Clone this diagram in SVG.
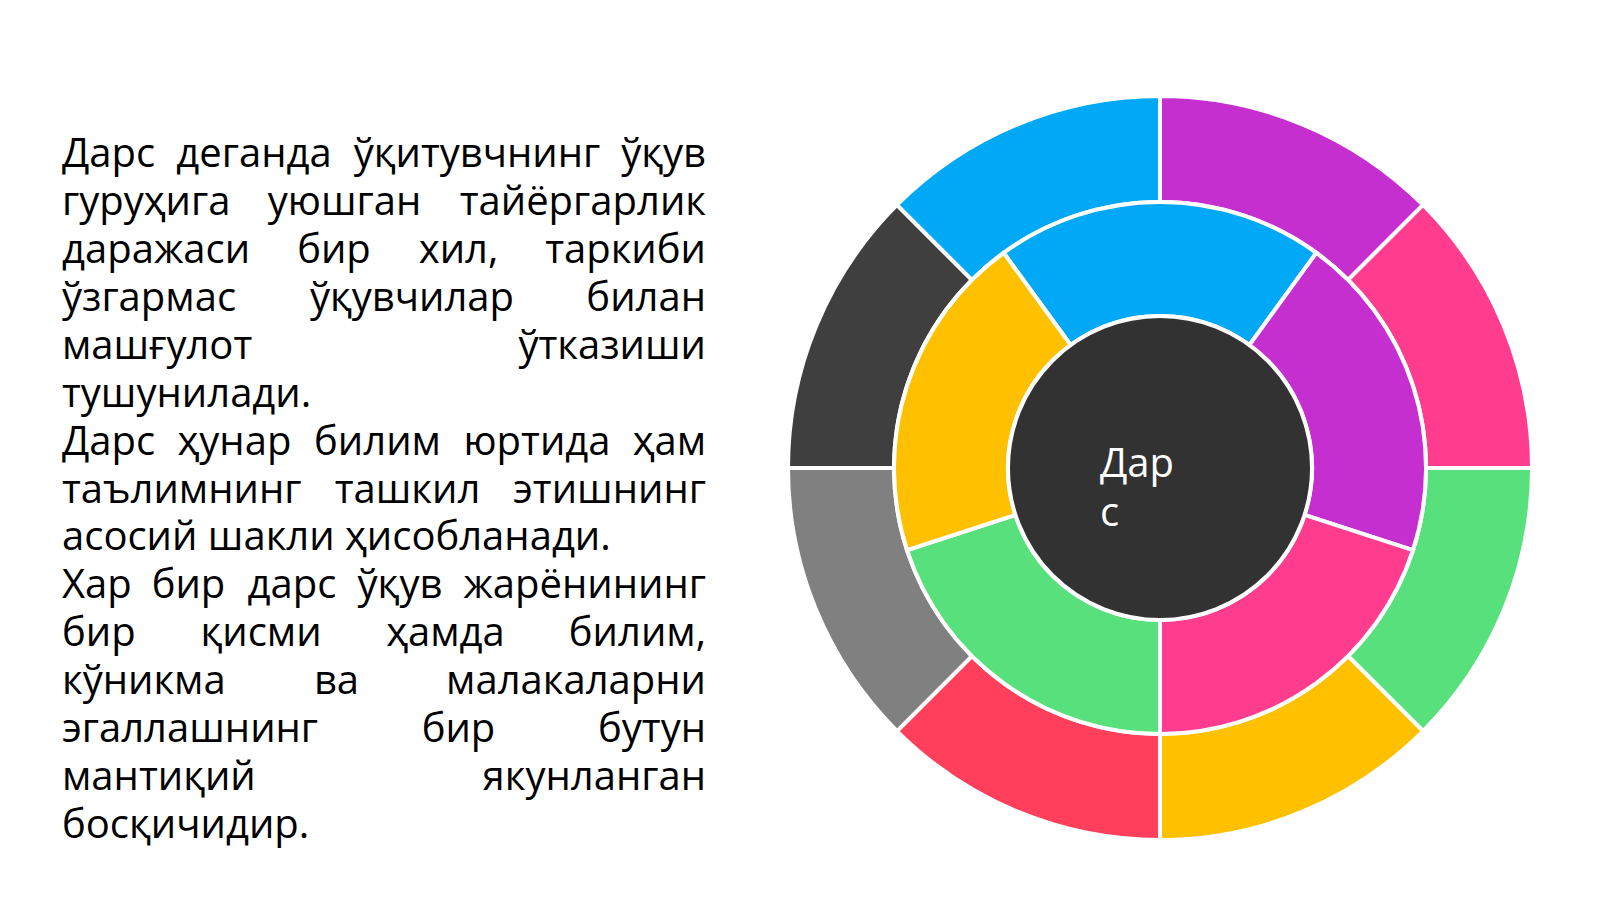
<svg xmlns="http://www.w3.org/2000/svg" width="1600" height="899" viewBox="0 0 1600 899">
<style>
.t{font-family:"Open Sans","Noto Sans","DejaVu Sans",sans-serif;font-size:40px;fill:#000}
.s{text-anchor:start}
.m{text-anchor:middle}
.e{text-anchor:end}
.seg{stroke:#fff;stroke-width:4;stroke-linejoin:miter}
.c{font-family:"Open Sans","Noto Sans","DejaVu Sans",sans-serif;font-size:40px;fill:#fff}
</style>
<rect x="0" y="0" width="1600" height="899" fill="#fff"/>
<g id="paragraph">
<text class="t s" x="62" y="167">Дарс</text><text class="t m" x="254" y="167">деганда</text><text class="t m" x="477" y="167">ўқитувчнинг</text><text class="t e" x="706" y="167">ўқув</text>
<text class="t s" x="62" y="215">гуруҳига</text><text class="t m" x="344.5" y="215">уюшган</text><text class="t e" x="706" y="215">тайёргарлик</text>
<text class="t s" x="62" y="263">даражаси</text><text class="t m" x="334" y="263">бир</text><text class="t m" x="458.5" y="263">хил,</text><text class="t e" x="706" y="263">таркиби</text>
<text class="t s" x="62" y="311">ўзгармас</text><text class="t m" x="412" y="311">ўқувчилар</text><text class="t e" x="706" y="311">билан</text>
<text class="t s" x="62" y="359">машғулот</text><text class="t e" x="706" y="359">ўтказиши</text>
<text class="t s" x="62" y="407">тушунилади.</text>
<text class="t s" x="62" y="455">Дарс</text><text class="t m" x="234.5" y="455">ҳунар</text><text class="t m" x="377.5" y="455">билим</text><text class="t m" x="537" y="455">юртида</text><text class="t e" x="706" y="455">ҳам</text>
<text class="t s" x="62" y="503">таълимнинг</text><text class="t m" x="407.5" y="503">ташкил</text><text class="t e" x="706" y="503">этишнинг</text>
<text class="t s" x="62" y="550">асосий шакли ҳисобланади.</text>
<text class="t s" x="62" y="598">Хар</text><text class="t m" x="188.5" y="598">бир</text><text class="t m" x="292" y="598">дарс</text><text class="t m" x="400" y="598">ўқув</text><text class="t e" x="706" y="598">жарёнининг</text>
<text class="t s" x="62" y="646">бир</text><text class="t m" x="261" y="646">қисми</text><text class="t m" x="445.5" y="646">ҳамда</text><text class="t e" x="706" y="646">билим,</text>
<text class="t s" x="62" y="694">кўникма</text><text class="t m" x="336.5" y="694">ва</text><text class="t e" x="706" y="694">малакаларни</text>
<text class="t s" x="62" y="742">эгаллашнинг</text><text class="t m" x="458.5" y="742">бир</text><text class="t e" x="706" y="742">бутун</text>
<text class="t s" x="62" y="790">мантиқий</text><text class="t e" x="706" y="790">якунланган</text>
<text class="t s" x="62" y="838">босқичидир.</text>
</g>
<g id="outer-ring">
<path id="o1" class="seg" fill="#C62FCF" d="M1160 96 A372 372 0 0 1 1423.04 204.96 L1348.09 279.91 A266 266 0 0 0 1160 202 Z"/>
<path id="o2" class="seg" fill="#FF3C8E" d="M1423.04 204.96 A372 372 0 0 1 1532 468 L1426 468 A266 266 0 0 0 1348.09 279.91 Z"/>
<path id="o3" class="seg" fill="#57E07B" d="M1532 468 A372 372 0 0 1 1423.04 731.04 L1348.09 656.09 A266 266 0 0 0 1426 468 Z"/>
<path id="o4" class="seg" fill="#FFC000" d="M1423.04 731.04 A372 372 0 0 1 1160 840 L1160 734 A266 266 0 0 0 1348.09 656.09 Z"/>
<path id="o5" class="seg" fill="#FF3F5C" d="M1160 840 A372 372 0 0 1 896.96 731.04 L971.91 656.09 A266 266 0 0 0 1160 734 Z"/>
<path id="o6" class="seg" fill="#808080" d="M896.96 731.04 A372 372 0 0 1 788 468 L894 468 A266 266 0 0 0 971.91 656.09 Z"/>
<path id="o7" class="seg" fill="#3F3F3F" d="M788 468 A372 372 0 0 1 896.96 204.96 L971.91 279.91 A266 266 0 0 0 894 468 Z"/>
<path id="o8" class="seg" fill="#00A8F5" d="M896.96 204.96 A372 372 0 0 1 1160 96 L1160 202 A266 266 0 0 0 971.91 279.91 Z"/>
</g>
<g id="middle-ring">
<path id="m1" class="seg" fill="#00A8F5" d="M1003.65 252.80 A266 266 0 0 1 1316.35 252.80 L1249.34 345.03 A152 152 0 0 0 1070.66 345.03 Z"/>
<path id="m2" class="seg" fill="#C62FCF" d="M1316.35 252.80 A266 266 0 0 1 1412.98 550.20 L1304.56 514.97 A152 152 0 0 0 1249.34 345.03 Z"/>
<path id="m3" class="seg" fill="#FF3C8E" d="M1412.98 550.20 A266 266 0 0 1 1160 734 L1160 620 A152 152 0 0 0 1304.56 514.97 Z"/>
<path id="m4" class="seg" fill="#57E07B" d="M1160 734 A266 266 0 0 1 907.02 550.20 L1015.44 514.97 A152 152 0 0 0 1160 620 Z"/>
<path id="m5" class="seg" fill="#FFC000" d="M907.02 550.20 A266 266 0 0 1 1003.65 252.80 L1070.66 345.03 A152 152 0 0 0 1015.44 514.97 Z"/>
</g>
<g id="center">
<circle cx="1160" cy="468" r="152" fill="#323232" stroke="#fff" stroke-width="4"/>
<text class="c" x="1100" y="477">Дар</text>
<text class="c" x="1100" y="526">с</text>
</g>
</svg>
